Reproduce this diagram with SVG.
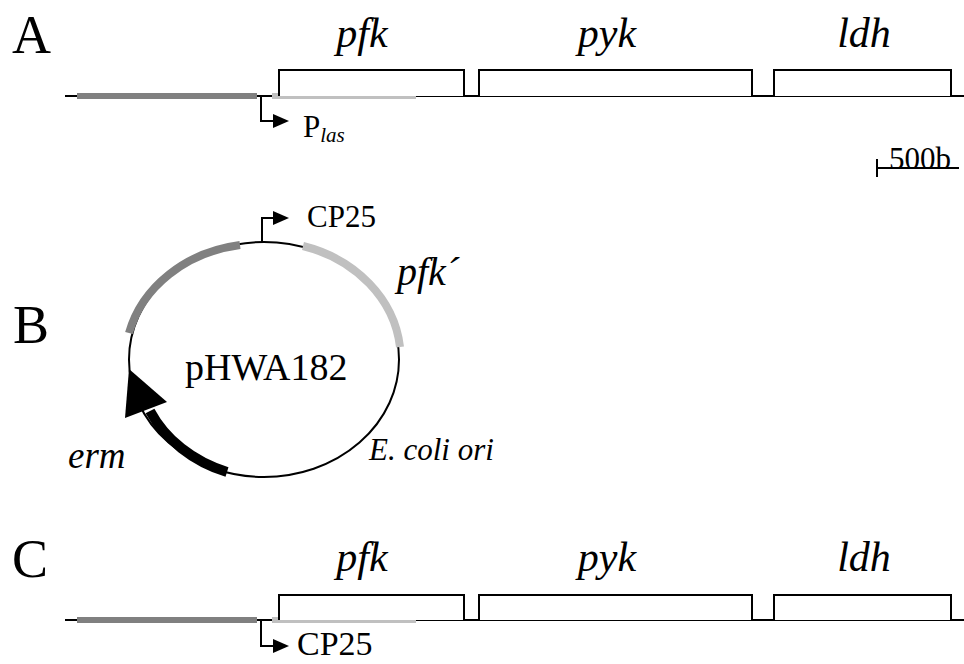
<svg xmlns="http://www.w3.org/2000/svg" width="964" height="664" viewBox="0 0 964 664">
<style>
.t{font-family:"Liberation Serif","Times New Roman",serif;fill:#000}
.i{font-style:italic}
.ln{stroke:#000;stroke-width:2;fill:none}
.box{stroke:#000;stroke-width:2;fill:#fff}
.dk{stroke:#808080;stroke-width:6;fill:none}
.lt{stroke:#c0c0c0;stroke-width:6;fill:none}
.prom{stroke:#000;stroke-width:2;fill:none}
.g{font-size:42px;text-anchor:middle}
</style>
<rect width="964" height="664" fill="#fff"/>

<g id="panelA">
<text class="t" x="12" y="53" font-size="54">A</text>
<g id="A-line"><line class="ln" x1="65" y1="96" x2="964" y2="96"/>
<line class="dk" x1="77" y1="96" x2="257" y2="96"/>
<line class="lt" x1="272" y1="96" x2="416" y2="96"/></g>
<g id="A-pfk"><path class="box" d="M279 96 V70 H464 V96"/><text class="t i g" x="362" y="47">pfk</text></g>
<g id="A-pyk"><path class="box" d="M479 96 V70 H752 V96"/><text class="t i g" x="607" y="47">pyk</text></g>
<g id="A-ldh"><path class="box" d="M774 96 V70 H951 V96"/><text class="t i g" x="864" y="47">ldh</text></g>
<g id="A-plas"><path class="prom" d="M261 96 V121 H274"/><polygon points="273,114 289,121 273,128" fill="#000"/>
<text class="t" x="303" y="137" font-size="31">P<tspan class="i" font-size="21" dy="5">las</tspan></text></g>
<g id="scale"><line class="ln" x1="877" y1="159" x2="877" y2="177"/><line class="ln" x1="877" y1="168" x2="959" y2="168"/>
<text class="t" x="889" y="169" font-size="31">500b</text></g>
</g>

<g id="panelB">
<text class="t" x="13" y="343" font-size="54">B</text>
<g id="plasmid">
<ellipse cx="264" cy="359.5" rx="135" ry="117.5" fill="none" stroke="#000" stroke-width="2"/>
<text class="t" x="185" y="380" font-size="38">pHWA182</text>
</g>
<g id="B-cp25"><path class="prom" d="M262 242 V218 H274"/><polygon points="273,211 289,218 273,225" fill="#000"/>
<text class="t" x="307" y="227" font-size="31">CP25</text></g>
<g id="B-dark"><path d="M129 333 A135 117.5 0 0 1 240 245" stroke="#808080" stroke-width="8" fill="none"/></g>
<g id="B-pfk"><path d="M303 246 A135 117.5 0 0 1 400 347" stroke="#c0c0c0" stroke-width="8" fill="none"/>
<text class="t i" x="397" y="285" font-size="40">pfk´</text></g>
<g id="B-erm"><path d="M227 472 A135 117.5 0 0 1 150 411" stroke="#000" stroke-width="10" fill="none"/>
<polygon points="129,369 125,418 167,402" fill="#000"/>
<text class="t i" x="68" y="468" font-size="37">erm</text></g>
<g id="B-ori"><text class="t i" x="369" y="460" font-size="31">E. coli ori</text></g>
</g>

<g id="panelC">
<text class="t" x="12" y="577" font-size="54">C</text>
<g id="C-line"><line class="ln" x1="65" y1="620" x2="964" y2="620"/>
<line class="dk" x1="77" y1="620" x2="257" y2="620"/>
<line class="lt" x1="272" y1="620" x2="416" y2="620"/></g>
<g id="C-pfk"><path class="box" d="M279 620 V595 H464 V620"/><text class="t i g" x="362" y="571">pfk</text></g>
<g id="C-pyk"><path class="box" d="M479 620 V595 H752 V620"/><text class="t i g" x="607" y="571">pyk</text></g>
<g id="C-ldh"><path class="box" d="M774 620 V595 H951 V620"/><text class="t i g" x="864" y="571">ldh</text></g>
<g id="C-cp25"><path class="prom" d="M261 620 V646 H274"/><polygon points="273,639 289,646 273,653" fill="#000"/>
<text class="t" x="297" y="655" font-size="34">CP25</text></g>
</g>
</svg>
